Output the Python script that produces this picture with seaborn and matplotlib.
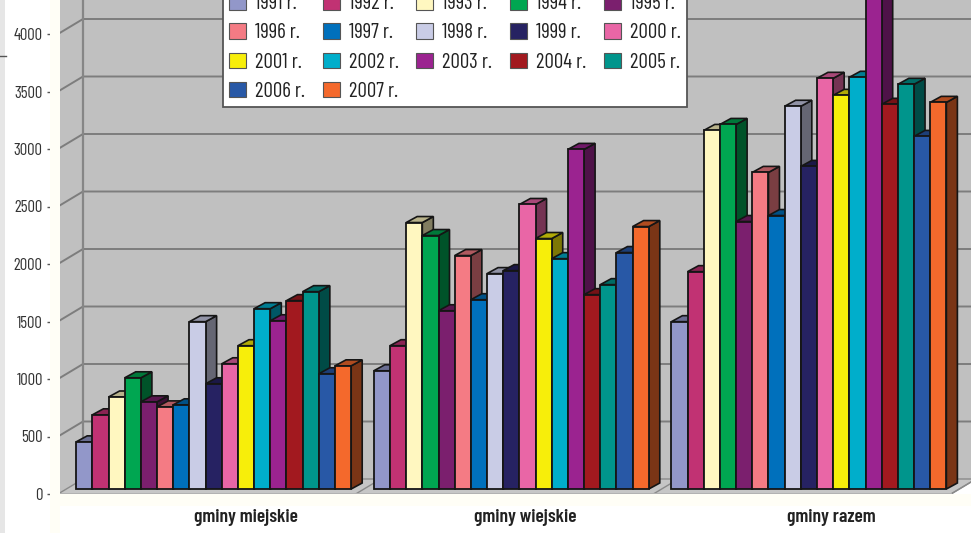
import seaborn as sns
import matplotlib.pyplot as plt
import matplotlib.colors as mcolors
from matplotlib.patches import Polygon, Rectangle
from matplotlib.ticker import FixedLocator
import pandas as pd
import warnings
import logging
warnings.filterwarnings('ignore')
logging.getLogger("matplotlib.font_manager").setLevel(logging.ERROR)

years = ["1991 r.", "1992 r.", "1993 r.", "1994 r.", "1995 r.", "1996 r.", "1997 r.", "1998 r.", "1999 r.",
         "2000 r.", "2001 r.", "2002 r.", "2003 r.", "2004 r.", "2005 r.", "2006 r.", "2007 r."]
categories = ["gminy miejskie", "gminy wiejskie", "gminy razem"]

miejskie = [410, 645, 800, 967, 758, 714, 732, 1455, 915, 1089, 1246, 1568, 1463, 1638, 1716, 1002, 1071]
wiejskie = [1028, 1246, 2317, 2204, 1550, 2030, 1646, 1873, 1899, 2474, 2178, 2003, 2953, 1690, 1777, 2056, 2282]
razem = [1455, 1890, 3118, 3170, 2326, 2753, 2378, 3328, 2805, 3571, 3423, 3580, 4400, 3345, 3519, 3066, 3362]

colors = ["#9297c9", "#c13273", "#fff7c0", "#00a651", "#7b1f6e", "#f47b84", "#0070bc", "#c9cce6", "#262262",
          "#e966a6", "#f7ee0a", "#00aecb", "#9b2390", "#a2191f", "#00958c", "#2858a6", "#f4692c"]

W, H = 971, 533
SCALE = 0.115  # px per unit
GROUP = 297.6  # px per category

df = pd.DataFrame({
    "gmina": [c for c in categories for _ in years],
    "rok": years * 3,
    "value": miejskie + wiejskie + razem,
})

plt.rcParams["font.family"] = ["Barlow Condensed", "Liberation Sans Narrow", "Liberation Sans", "DejaVu Sans"]
fig = plt.figure(figsize=(W / 100, H / 100), dpi=100, facecolor="white")


def px_axes(left, right, bottom, top=0):
    return fig.add_axes([left / W, (H - bottom) / H, (right - left) / W, (bottom - top) / H])


# page leftovers
fig.patches.append(Rectangle((50 / W, 0), 10 / W, 1, transform=fig.transFigure, color="#fffef6", lw=0))
fig.patches.append(Rectangle((50 / W, (H - 506) / H), 921 / W, 12 / H, transform=fig.transFigure, color="#fffef6", lw=0))
fig.patches.append(Rectangle((0, 0), 5 / W, 1, transform=fig.transFigure, color="#e6e6e6", lw=0))
fig.add_artist(plt.Line2D([0, 6 / W], [(H - 56) / H] * 2, color="#555555", lw=1))

# back frame: walls, floor, grid, axis
back = px_axes(58, 951, 494)
back.set_xlim(0, 3)
ymax = 494 / SCALE
back.set_ylim(0, ymax)
back.patch.set_visible(False)
wall_dx = 25 / GROUP
wall_dy = 15 / SCALE
top_y = ymax + 300
back.add_patch(Polygon([(0, 0), (3, 0), (3 + wall_dx, wall_dy), (3 + wall_dx, top_y), (0, top_y)],
                       fc="#c0c0c0", ec="none", clip_on=False, zorder=0))
back.add_patch(Polygon([(0, 0), (3, 0), (3 + wall_dx, wall_dy), (wall_dx, wall_dy)],
                       fc="#c6c6c6", ec="#8a8a8a", lw=1, clip_on=False, zorder=1))
for v in range(500, 4001, 500):
    back.plot([0, wall_dx, 3 + wall_dx], [v, v + wall_dy, v + wall_dy], color="#7d7d7d", lw=1.4, clip_on=False, zorder=1)
back.plot([wall_dx, wall_dx], [wall_dy, top_y], color="#868686", lw=1.6, clip_on=False, zorder=1)
for i in range(3):
    back.plot([i + 1, i + 1 + wall_dx], [0, wall_dy], color="#8a8a8a", lw=1, zorder=1, clip_on=False)

sns.despine(ax=back)
back.spines["left"].set_color("#666666")
back.spines["left"].set_linewidth(1.3)
back.spines["bottom"].set_color("#b5b5b5")
back.spines["bottom"].set_linewidth(1.3)
back.set_yticks(range(0, 4001, 500))
back.tick_params(axis="y", length=8, width=1, color="#555555", labelsize=12, labelcolor="#333333", pad=3)
back.set_xticks(range(4))
back.set_xticklabels([])
back.tick_params(axis="x", which="major", length=8, width=1, color="#777777")
back.xaxis.set_minor_locator(FixedLocator([0.632, 1.569, 2.597]))
back.set_xticklabels(categories, minor=True, fontsize=14, fontweight="semibold", color="#222222")
back.tick_params(axis="x", which="minor", length=0, pad=11)

# bars
ax = px_axes(64.9, 957.7, 489)
ax.patch.set_visible(False)
sns.barplot(data=df, x="gmina", y="value", hue="rok", order=categories, hue_order=years, palette=colors,
            width=0.924, gap=0, saturation=1, edgecolor="#151515", linewidth=1.3, ax=ax)
ax.set_xlim(-0.5, 2.5)
ax.set_ylim(0, 489 / SCALE)
ax.set_axis_off()

bar_dx = 11 / GROUP
bar_dy = 6 / SCALE
handles, labels = ax.get_legend_handles_labels()
ax.get_legend().remove()

for i, cont in enumerate(ax.containers):
    rgb = mcolors.to_rgb(colors[i])
    side = tuple(c * 0.5 for c in rgb)
    top = tuple(c * 0.72 for c in rgb)
    for bar in cont:
        x0, x1 = bar.get_x(), bar.get_x() + bar.get_width()
        h = bar.get_height()
        z = 3 + i * 3
        ax.add_patch(Polygon([(x1, 0), (x1 + bar_dx, bar_dy), (x1 + bar_dx, h + bar_dy), (x1, h)],
                             fc=side, ec="#151515", lw=1.2, zorder=z, clip_on=False))
        ax.add_patch(Polygon([(x0, h), (x0 + bar_dx, h + bar_dy), (x1 + bar_dx, h + bar_dy), (x1, h)],
                             fc=top, ec="#151515", lw=1.2, zorder=z + 1, clip_on=False))
        bar.set_zorder(z + 2)
        bar.set_clip_on(False)

# legend reads row by row, matplotlib fills column by column
order = [j for col in range(5) for j in range(col, len(years), 5)]
for h in handles:
    h.set_edgecolor("#555555")
    h.set_linewidth(0.8)
leg = fig.legend([handles[j] for j in order], [labels[j] for j in order], ncol=5, loc="lower left",
                 bbox_to_anchor=(223 / W, (H - 107) / H), borderaxespad=0, frameon=True, fancybox=False,
                 framealpha=1, edgecolor="#555555", fontsize=15, handlelength=0.82, handleheight=0.77,
                 handletextpad=0.42, columnspacing=0.85, labelspacing=0.49, borderpad=0.3)
leg.get_frame().set_linewidth(1.3)
for t in leg.get_texts():
    t.set_color("#222222")

plt.savefig("out.png", dpi=100)
